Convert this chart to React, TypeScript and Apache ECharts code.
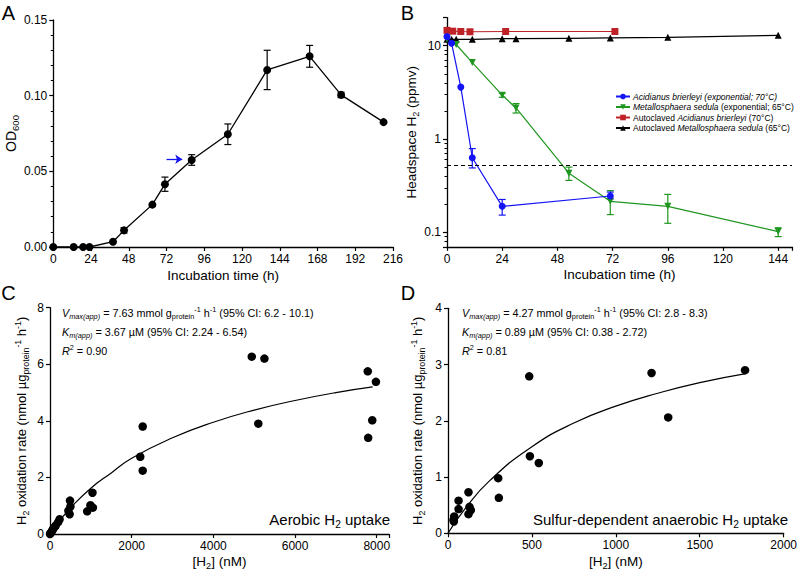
import React, { useEffect, useRef } from 'react';
import * as echarts from 'echarts';

const F = "'Liberation Sans', Arial, Helvetica, sans-serif";

// ---------- Panel A: growth curve ----------
const aTime = [0, 13, 19, 23, 38, 45, 63, 71, 88, 111, 136, 163, 183, 210];
const aOD = [0, 0, 0, 0, 0.0035, 0.011, 0.028, 0.0415, 0.0575, 0.0745, 0.117, 0.126, 0.1005, 0.0825];
const aErr = [0, 0, 0, 0, 0, 0.0018, 0, 0.0047, 0.0035, 0.0068, 0.013, 0.0072, 0.0018, 0];
const aArrowFrom = [72, 0.058];
const aArrowTo = [82, 0.058];

// ---------- Panel B: headspace H2 ----------
const bBlueT = [0, 2, 6, 11, 24, 71];
const bBlueY = [12.5, 10.6, 3.6, 0.63, 0.19, 0.245];
const bBlueLo = [null, null, null, 0.49, 0.153, 0.228];
const bBlueHi = [null, null, null, 0.79, 0.225, 0.27];

const bGreenT = [0, 4, 11, 24, 30, 53, 71, 96, 144];
const bGreenY = [11.8, 10.3, 6.6, 2.95, 2.15, 0.43, 0.215, 0.19, 0.102];
const bGreenLo = [null, null, null, 2.8, 1.9, 0.36, 0.155, 0.125, 0.09];
const bGreenHi = [null, null, null, 3.1, 2.4, 0.5, 0.28, 0.255, 0.112];

const bRedT = [0, 2.5, 6, 10, 25.5, 73];
const bRedY = [14.6, 14.3, 14.2, 14.1, 14.2, 14.2];

const bBlackT = [0, 2, 4, 11, 24, 30, 53, 71, 96, 144];
const bBlackY = [11.7, 11.7, 11.7, 11.7, 11.9, 11.9, 12.0, 12.1, 12.3, 12.9];

const bDetectionLimit = 0.53;

const legendNames = ['ab', 'ms', 'abAuto', 'msAuto'];
const legendLabels: Record<string, string> = {
  ab: '{i|Acidianus brierleyi (exponential; 70°C)}',
  ms: '{i|Metallosphaera sedula} (exponential; 65°C)',
  abAuto: 'Autoclaved {i|Acidianus brierleyi} (70°C)',
  msAuto: 'Autoclaved {i|Metallosphaera sedula} (65°C)',
};

// ---------- Panel C: aerobic kinetics ----------
const cX = [7780, 7980, 7890, 7790, 4940, 5250, 5100, 2210, 2270, 2270, 1040, 990, 1050, 910, 490, 500, 450, 480, 235, 200, 140, 120, 80, 60, 40, 15, 0];
const cY = [5.75, 5.38, 4.02, 3.40, 6.27, 6.20, 3.90, 2.73, 3.80, 2.24, 1.46, 1.02, 0.93, 0.80, 1.18, 0.97, 0.82, 0.70, 0.52, 0.42, 0.30, 0.26, 0.18, 0.14, 0.08, 0.03, 0.0];
const cFitX = [0, 250, 500, 1000, 1500, 2000, 3000, 4000, 5000, 6000, 7000, 7900];
const cFitY = [0, 0.49, 0.92, 1.62, 2.16, 2.68, 3.4, 3.95, 4.38, 4.72, 5.0, 5.2];

// ---------- Panel D: anaerobic kinetics ----------
const dX = [1770, 1213, 1312, 484, 488, 541, 299, 303, 122, 63, 63, 128, 136, 122, 37, 33, 35];
const dY = [2.90, 2.85, 2.06, 2.79, 1.37, 1.25, 0.98, 0.63, 0.73, 0.58, 0.43, 0.47, 0.41, 0.34, 0.30, 0.24, 0.21];
const dFitX = [0, 100, 250, 500, 750, 1000, 1250, 1500, 1775];
const dFitY = [0, 0.43, 0.94, 1.54, 1.96, 2.26, 2.49, 2.68, 2.84];

const cAnn = [
  '{iv|V}{isub|max(app)} = 7.63 mmol g{sub|protein}{sup|-1} h{sup|-1} (95% CI: 6.2 - 10.1)',
  '{iv|K}{isub|m(app)} = 3.67 µM (95% CI: 2.24 - 6.54)',
  '{iv|R}{sup|2} = 0.90',
];
const dAnn = [
  '{iv|V}{isub|max(app)} = 4.27 mmol g{sub|protein}{sup|-1} h{sup|-1} (95% CI: 2.8 - 8.3)',
  '{iv|K}{isub|m(app)} = 0.89 µM (95% CI: 0.38 - 2.72)',
  '{iv|R}{sup|2} = 0.81',
];

const BLUE = '#1414f5';
const GREEN = '#1f961f';
const RED = '#bf2226';

const richLabel = (fs: number) => {
  const s = fs * 0.68;
  return {
    sub: { fontSize: s, fontFamily: F, color: '#000', verticalAlign: 'bottom', lineHeight: s },
    sup: { fontSize: s, fontFamily: F, color: '#000', verticalAlign: 'top', lineHeight: s },
    i: { fontSize: fs, fontFamily: F, color: '#000', fontStyle: 'italic', lineHeight: fs * 1.35 },
  };
};
const richGraphic = (fs: number) => {
  const s = fs * 0.68;
  const base = { fontFamily: F, fill: '#000', color: '#000' };
  return {
    sub: { ...base, fontSize: s, verticalAlign: 'bottom', lineHeight: s },
    isub: { ...base, fontSize: s, fontStyle: 'italic', verticalAlign: 'bottom', lineHeight: s },
    sup: { ...base, fontSize: s, verticalAlign: 'top', lineHeight: s },
    iv: { ...base, fontSize: fs, fontStyle: 'italic', lineHeight: fs * 1.35 },
  };
};

const axisBase = (idx: number) => ({
  gridIndex: idx,
  nameLocation: 'middle',
  axisLine: { show: true, onZero: false, lineStyle: { color: '#000', width: 1.3 } },
  axisTick: { show: true, inside: false, length: 4, lineStyle: { color: '#000', width: 1.2 } },
  axisLabel: { color: '#000', fontSize: 12, fontFamily: F, margin: 6 },
  splitLine: { show: false },
});

function errSeries(idx: number, data: number[][], color: string, cap: number) {
  return {
    type: 'custom',
    xAxisIndex: idx,
    yAxisIndex: idx,
    silent: true,
    z: 1,
    clip: false,
    data,
    encode: { x: 0, y: [1, 2] },
    renderItem: (_p: any, api: any) => {
      const x = api.value(0);
      const lo = api.value(1);
      const hi = api.value(2);
      const a = api.coord([x, hi]);
      const b = api.coord([x, lo]);
      const style = { stroke: color, lineWidth: 1.2, fill: null };
      return {
        type: 'group',
        children: [
          { type: 'line', shape: { x1: a[0], y1: a[1], x2: b[0], y2: b[1] }, style },
          { type: 'line', shape: { x1: a[0] - cap, y1: a[1], x2: a[0] + cap, y2: a[1] }, style },
          { type: 'line', shape: { x1: b[0] - cap, y1: b[1], x2: b[0] + cap, y2: b[1] }, style },
        ],
      };
    },
  };
}

const zip = (xs: number[], ys: number[]) => xs.map((x, i) => [x, ys[i]]);
const errRows = (xs: number[], lo: (number | null)[], hi: (number | null)[]) =>
  xs.map((x, i) => (lo[i] != null ? [x, lo[i] as number, hi[i] as number] : null)).filter(Boolean) as number[][];

const isPow10 = (v: number) => {
  const l = Math.log10(v);
  return Math.abs(l - Math.round(l)) < 1e-6;
};

function buildOption(): any {
  const aErrRows = aTime
    .map((t, i) => (aErr[i] > 0 ? [t, aOD[i] - aErr[i], aOD[i] + aErr[i]] : null))
    .filter(Boolean) as number[][];

  const AF = 10.8;
  const ann = (lines: string[], x: number) =>
    lines.map((t, k) => ({
      type: 'text',
      x,
      y: [313, 331.5, 351][k],
      silent: true,
      style: {
        text: t,
        rich: richGraphic(AF),
        fontSize: AF,
        fontFamily: F,
        fill: '#000',
        lineHeight: AF * 1.35,
        align: 'left',
        verticalAlign: 'middle',
      },
    }));

  const letter = (t: string, x: number, y: number) => ({
    type: 'text',
    x,
    y,
    silent: true,
    style: { text: t, fontSize: 20, fontFamily: F, fill: '#000', align: 'center', verticalAlign: 'middle' },
  });

  const bigLabel = (text: string, x: number) => ({
    type: 'text',
    x,
    y: 519,
    silent: true,
    style: {
      text,
      rich: richGraphic(15),
      fontSize: 15,
      fontFamily: F,
      fill: '#000',
      lineHeight: 15 * 1.35,
      align: 'right',
      verticalAlign: 'middle',
    },
  });

  const plain = (v: number) => String(v);

  return {
    animation: false,
    backgroundColor: '#fff',
    grid: [
      { left: 51, top: 20, width: 342, height: 227 },
      { left: 447, top: 17.6, width: 345, height: 229.2 },
      { left: 50, top: 307.7, width: 339, height: 226.3 },
      { left: 448, top: 308.3, width: 339, height: 225 },
    ],
    xAxis: [
      {
        ...axisBase(0),
        type: 'value',
        min: 0,
        max: 216,
        interval: 24,
        name: 'Incubation time (h)',
        nameGap: 21,
        nameTextStyle: { fontSize: 13.5, fontFamily: F, color: '#000' },
        axisLabel: { ...axisBase(0).axisLabel, formatter: plain },
      },
      {
        ...axisBase(1),
        type: 'value',
        min: 0,
        max: 150,
        interval: 24,
        name: 'Incubation time (h)',
        nameGap: 21,
        nameTextStyle: { fontSize: 13.5, fontFamily: F, color: '#000' },
        axisLabel: {
          ...axisBase(1).axisLabel,
          formatter: (v: number) => (v % 24 === 0 ? String(v) : ''),
        },
      },
      {
        ...axisBase(2),
        type: 'value',
        min: 0,
        max: 8300,
        interval: 2000,
        name: '[H{sub|2}] (nM)',
        nameGap: 10,
        nameTextStyle: { fontSize: 13.5, fontFamily: F, color: '#000', lineHeight: 18, rich: richLabel(13.5) },
        axisLabel: {
          ...axisBase(2).axisLabel,
          formatter: (v: number) => (v % 2000 === 0 ? String(v) : ''),
        },
      },
      {
        ...axisBase(3),
        type: 'value',
        min: 0,
        max: 2000,
        interval: 500,
        name: '[H{sub|2}] (nM)',
        nameGap: 10,
        nameTextStyle: { fontSize: 13.5, fontFamily: F, color: '#000', lineHeight: 18, rich: richLabel(13.5) },
        axisLabel: { ...axisBase(3).axisLabel, formatter: plain },
      },
    ],
    yAxis: [
      {
        ...axisBase(0),
        type: 'value',
        min: 0,
        max: 0.15,
        interval: 0.05,
        name: 'OD{sub|600}',
        nameGap: 33,
        nameTextStyle: { fontSize: 14, fontFamily: F, color: '#000', lineHeight: 19, rich: richLabel(14) },
        minorTick: { show: true, splitNumber: 5, length: 2.5, lineStyle: { color: '#000', width: 1 } },
        axisLabel: { ...axisBase(0).axisLabel, formatter: (v: number) => v.toFixed(2) },
      },
      {
        ...axisBase(1),
        type: 'log',
        logBase: 10,
        min: 0.07,
        max: 20,
        name: 'Headspace H{sub|2} (ppmv)',
        nameGap: 23,
        nameTextStyle: { fontSize: 13.5, fontFamily: F, color: '#000', lineHeight: 18, rich: richLabel(13.5) },
        minorTick: { show: true, splitNumber: 9, length: 2.5, lineStyle: { color: '#000', width: 1 } },
        axisLabel: {
          ...axisBase(1).axisLabel,
          formatter: (v: number) => (isPow10(v) ? String(Math.round(v * 10) / 10) : ''),
        },
      },
      {
        ...axisBase(2),
        type: 'value',
        min: 0,
        max: 8,
        interval: 2,
        name: 'H{sub|2} oxidation rate (nmol µg{sub|protein}{sup|-1} h{sup|-1})',
        nameGap: 20,
        nameTextStyle: { fontSize: 13, fontFamily: F, color: '#000', lineHeight: 17, rich: richLabel(13) },
        axisLabel: { ...axisBase(2).axisLabel, formatter: plain },
      },
      {
        ...axisBase(3),
        type: 'value',
        min: 0,
        max: 4,
        interval: 1,
        name: 'H{sub|2} oxidation rate (nmol µg{sub|protein}{sup|-1} h{sup|-1})',
        nameGap: 22,
        nameTextStyle: { fontSize: 13, fontFamily: F, color: '#000', lineHeight: 17, rich: richLabel(13) },
        axisLabel: { ...axisBase(3).axisLabel, formatter: plain },
      },
    ],
    legend: {
      data: legendNames,
      orient: 'vertical',
      left: 610,
      top: 87,
      itemGap: 1.5,
      itemWidth: 14,
      itemHeight: 7,
      selectedMode: false,
      formatter: (n: string) => legendLabels[n],
      textStyle: {
        fontSize: 8.5,
        fontFamily: F,
        color: '#000',
        padding: [0, 0, 0, -2],
        rich: { i: { fontSize: 8.5, fontFamily: F, color: '#000', fontStyle: 'italic' } },
      },
    },
    graphic: [
      letter('A', 8.5, 12.5),
      letter('B', 407.5, 12.5),
      letter('C', 8.5, 293),
      letter('D', 408, 293),
      ...ann(cAnn, 62),
      ...ann(dAnn, 462),
      bigLabel('Aerobic H{sub|2} uptake', 390),
      bigLabel('Sulfur-dependent anaerobic H{sub|2} uptake', 788),
    ],
    series: [
      // A
      {
        type: 'line',
        xAxisIndex: 0,
        yAxisIndex: 0,
        data: zip(aTime, aOD),
        symbol: 'circle',
        symbolSize: 8,
        clip: false,
        z: 3,
        itemStyle: { color: '#000', opacity: 1 },
        lineStyle: { color: '#000', width: 1.3 },
        markLine: {
          silent: true,
          symbol: ['none', 'arrow'],
          symbolSize: 7,
          label: { show: false },
          lineStyle: { color: BLUE, width: 1.3, type: 'solid' },
          data: [[{ coord: aArrowFrom }, { coord: aArrowTo }]],
        },
      },
      errSeries(0, aErrRows, '#000', 3.5),
      // B
      {
        name: 'msAuto',
        type: 'line',
        xAxisIndex: 1,
        yAxisIndex: 1,
        data: zip(bBlackT, bBlackY),
        symbol: 'triangle',
        symbolSize: 7,
        clip: false,
        z: 3,
        itemStyle: { color: '#000', opacity: 1 },
        lineStyle: { color: '#000', width: 1.2 },
        markLine: {
          silent: true,
          symbol: 'none',
          label: { show: false },
          lineStyle: { color: '#000', width: 1.2, type: [4, 3] },
          data: [{ yAxis: bDetectionLimit }],
        },
      },
      {
        name: 'abAuto',
        type: 'line',
        xAxisIndex: 1,
        yAxisIndex: 1,
        data: zip(bRedT, bRedY),
        symbol: 'rect',
        symbolSize: 7,
        clip: false,
        z: 3,
        itemStyle: { color: RED, opacity: 1 },
        lineStyle: { color: RED, width: 1.2 },
      },
      {
        name: 'ms',
        type: 'line',
        xAxisIndex: 1,
        yAxisIndex: 1,
        data: zip(bGreenT, bGreenY),
        symbol: 'triangle',
        symbolRotate: 180,
        symbolSize: 7,
        clip: false,
        z: 3,
        itemStyle: { color: GREEN, opacity: 1 },
        lineStyle: { color: GREEN, width: 1.2 },
      },
      {
        name: 'ab',
        type: 'line',
        xAxisIndex: 1,
        yAxisIndex: 1,
        data: zip(bBlueT, bBlueY),
        symbol: 'circle',
        symbolSize: 7,
        clip: false,
        z: 4,
        itemStyle: { color: BLUE, opacity: 1 },
        lineStyle: { color: BLUE, width: 1.2 },
      },
      errSeries(1, errRows(bGreenT, bGreenLo, bGreenHi), GREEN, 3.5),
      errSeries(1, errRows(bBlueT, bBlueLo, bBlueHi), BLUE, 3.5),
      // C
      {
        type: 'scatter',
        xAxisIndex: 2,
        yAxisIndex: 2,
        data: zip(cX, cY),
        symbol: 'circle',
        symbolSize: 8.5,
        clip: false,
        itemStyle: { color: '#000', opacity: 1 },
      },
      {
        type: 'line',
        xAxisIndex: 2,
        yAxisIndex: 2,
        data: zip(cFitX, cFitY),
        showSymbol: false,
        smooth: true,
        lineStyle: { color: '#000', width: 1.2 },
      },
      // D
      {
        type: 'scatter',
        xAxisIndex: 3,
        yAxisIndex: 3,
        data: zip(dX, dY),
        symbol: 'circle',
        symbolSize: 8.5,
        clip: false,
        itemStyle: { color: '#000', opacity: 1 },
      },
      {
        type: 'line',
        xAxisIndex: 3,
        yAxisIndex: 3,
        data: zip(dFitX, dFitY),
        showSymbol: false,
        smooth: true,
        lineStyle: { color: '#000', width: 1.2 },
      },
    ],
  };
}

export default function App() {
  const ref = useRef<HTMLDivElement>(null);
  useEffect(() => {
    const chart = echarts.init(ref.current as HTMLDivElement, null, { renderer: 'svg' });
    chart.setOption(buildOption());
    return () => chart.dispose();
  }, []);
  return (
    <div
      ref={ref}
      style={{ position: 'fixed', left: 0, top: 0, width: 800, height: 574, background: '#fff' }}
    />
  );
}
